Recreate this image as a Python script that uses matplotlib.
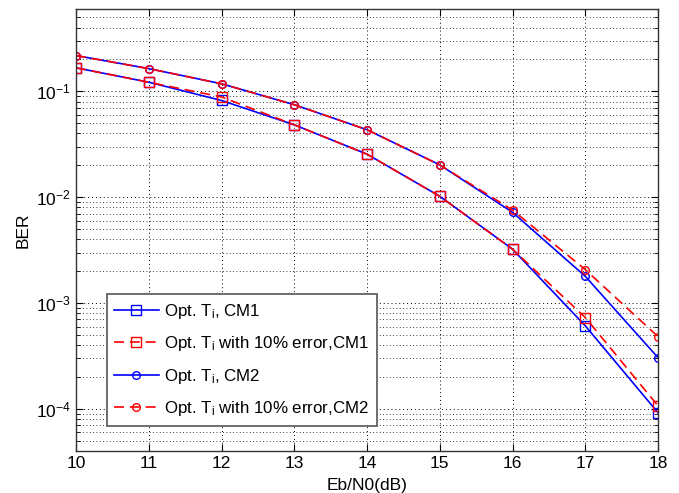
import numpy as np
import matplotlib
matplotlib.use('Agg')
import matplotlib.pyplot as plt
from matplotlib.ticker import LogLocator, NullFormatter, FixedLocator, FixedFormatter

# Данные
ebn0 = [10, 11, 12, 13, 14, 15, 16, 17, 18]
ber_cm1 = [0.167, 0.122, 0.082, 0.0483, 0.0255, 0.0102, 0.00323, 0.00061, 9.2e-5]
ber_cm1_err = [0.167, 0.122, 0.0885, 0.0483, 0.0255, 0.0102, 0.00323, 0.00073, 1.07e-4]
ber_cm2 = [0.218, 0.164, 0.118, 0.0748, 0.0434, 0.0202, 0.0072, 0.00179, 0.000305]
ber_cm2_err = [0.218, 0.164, 0.118, 0.0748, 0.0434, 0.0202, 0.00757, 0.00207, 0.000482]
labels = ['Opt. $\\mathregular{T_i}$, CM1',
          'Opt. $\\mathregular{T_i}$ with 10% error,CM1',
          'Opt. $\\mathregular{T_i}$, CM2',
          'Opt. $\\mathregular{T_i}$ with 10% error,CM2']

plt.rcParams['font.family'] = ['Liberation Sans', 'DejaVu Sans']
plt.rcParams['mathtext.fontset'] = 'custom'
plt.rcParams['mathtext.rm'] = 'Liberation Sans'
plt.rcParams['mathtext.it'] = 'Liberation Sans'

fig = plt.figure(figsize=(6.79, 4.93), dpi=100)
ax = fig.add_axes([76 / 679, 1 - 451 / 493, (658 - 76) / 679, (451 - 9) / 493])

ax.semilogy(ebn0, ber_cm1, color='blue', ls='-', marker='s', ms=7, mfc='none', lw=1.2, label=labels[0])
ax.semilogy(ebn0, ber_cm1_err, color='red', ls='--', marker='s', ms=7, mfc='none', lw=1.2, label=labels[1],
            dashes=(6, 3.5))
ax.semilogy(ebn0, ber_cm2, color='blue', ls='-', marker='o', ms=5.5, mfc='none', lw=1.2, label=labels[2])
ax.semilogy(ebn0, ber_cm2_err, color='red', ls='--', marker='o', ms=5.5, mfc='none', lw=1.2, label=labels[3],
            dashes=(6, 3.5))

ax.set_xlim(10, 18)
ax.set_ylim(4e-5, 0.6)
ax.set_xticks(ebn0)
ax.yaxis.set_major_locator(FixedLocator([1e-4, 1e-3, 1e-2, 1e-1]))
ax.yaxis.set_major_formatter(FixedFormatter(['$\\mathregular{10^{-4}}$', '$\\mathregular{10^{-3}}$',
                                             '$\\mathregular{10^{-2}}$', '$\\mathregular{10^{-1}}$']))
ax.yaxis.set_minor_locator(LogLocator(base=10, subs=np.arange(2, 10), numticks=20))
ax.yaxis.set_minor_formatter(NullFormatter())

ax.grid(True, which='major', ls=(0, (1, 3)), color='black', lw=0.7)
ax.grid(True, which='minor', axis='y', ls=(0, (1, 3)), color='black', lw=0.6)
ax.tick_params(which='both', direction='in', top=True, right=True, labelsize=12.5)
ax.tick_params(which='major', length=5)
ax.tick_params(which='minor', length=3)
for s in ax.spines.values():
    s.set_linewidth(1.0)
    s.set_color('#333333')

ax.set_xlabel('Eb/N0(dB)', fontsize=12.5, labelpad=5)
ax.set_ylabel('BER', fontsize=12.5)

leg = ax.legend(loc='lower left', bbox_to_anchor=(0.053, 0.057), borderaxespad=0, fontsize=12.2,
                fancybox=False, framealpha=1, edgecolor='#555555', handlelength=2.6, handletextpad=0.35,
                borderpad=0.45, labelspacing=0.8)
leg.get_frame().set_linewidth(1.2)

plt.savefig('out.png', dpi=100)
